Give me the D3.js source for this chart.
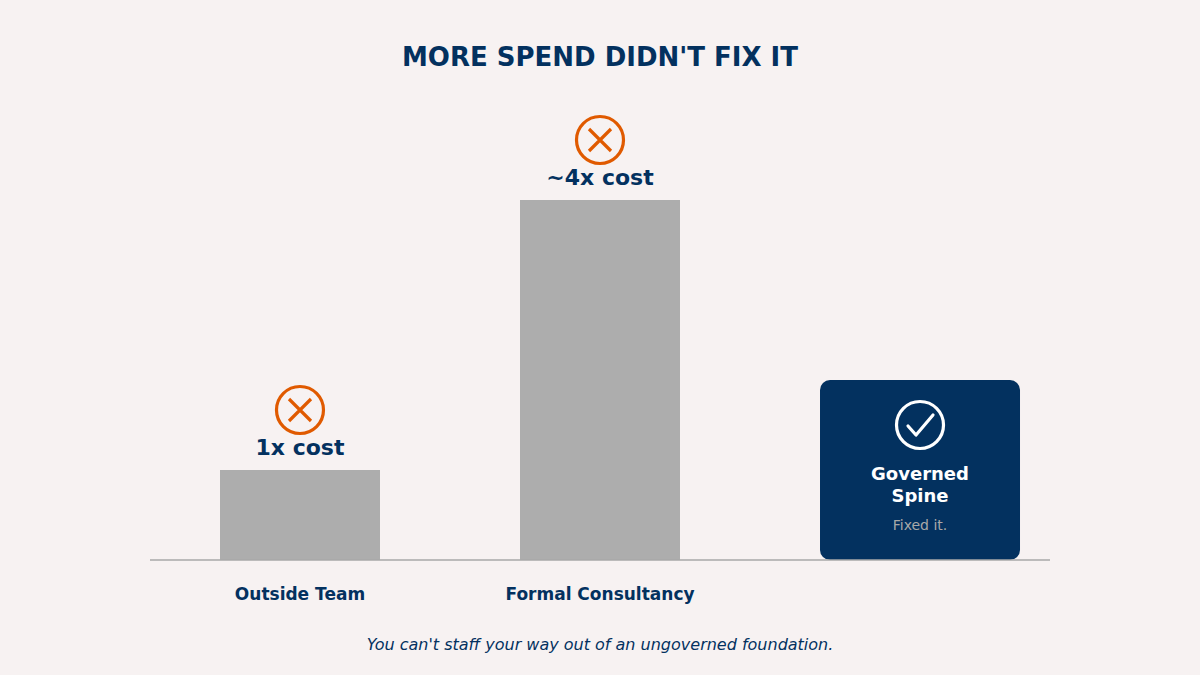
<!DOCTYPE html>
<html>
<head>
	<script src="https://d3js.org/d3.v7.min.js"></script>
	<style>
		body { margin: 0; background: #f7f2f2; font-family: "DejaVu Sans", sans-serif; }
	</style>
</head>
<body>
	<div id="chart"></div>
	<script>
		// data
		const categories = ["Outside Team", "Formal Consultancy", "Governed Spine"];
		const costValues = [1, 4, null];          // relative cost, spine has no bar
		const costLabels = ["1x cost", "~4x cost", null];
		const spineValue = 2;                      // height of the highlight card
		const spineLines = ["Governed", "Spine"];
		const spineNote = "Fixed it.";

		const navy = "#03315f", grey = "#adadad", orange = "#e05a00";
		const W = 1200, H = 675;

		const svg = d3.select("#chart").append("svg")
			.attr("width", W).attr("height", H);

		svg.append("rect").attr("width", W).attr("height", H).attr("fill", "#f7f2f2");

		// x scale
		const x = d3.scaleBand()
			.domain(categories)
			.range([150, 1050])
			.paddingInner(0.4667)
			.paddingOuter(0.2333);

		// y scale
		const y = d3.scaleLinear().domain([0, 4]).range([560, 200]);

		// title
		svg.append("text")
			.attr("x", W / 2).attr("y", 66)
			.attr("text-anchor", "middle")
			.attr("font-size", 26).attr("font-weight", "bold")
			.attr("fill", navy)
			.text("MORE SPEND DIDN'T FIX IT");

		const barData = categories.map((c, i) => ({ cat: c, v: costValues[i], label: costLabels[i] }))
			.filter(d => d.v != null);

		// bars
		svg.selectAll("rect.bar")
			.data(barData)
			.enter().append("rect")
			.attr("class", "bar")
			.attr("x", d => x(d.cat))
			.attr("y", d => y(d.v))
			.attr("width", x.bandwidth())
			.attr("height", d => y(0) - y(d.v))
			.attr("fill", grey);

		// cost labels
		svg.selectAll("text.cost")
			.data(barData)
			.enter().append("text")
			.attr("x", d => x(d.cat) + x.bandwidth() / 2)
			.attr("y", d => y(d.v) - 15)
			.attr("text-anchor", "middle")
			.attr("font-size", 22).attr("font-weight", "bold")
			.attr("fill", navy)
			.text(d => d.label);

		// X icons
		const icons = svg.selectAll("g.xicon")
			.data(barData)
			.enter().append("g")
			.attr("transform", d => `translate(${x(d.cat) + x.bandwidth() / 2},${y(d.v) - 60})`);
		icons.append("circle").attr("r", 23.5)
			.attr("fill", "none").attr("stroke", orange).attr("stroke-width", 3.2);
		icons.append("path").attr("d", "M-11,-11L11,11M11,-11L-11,11")
			.attr("stroke", orange).attr("stroke-width", 3.2).attr("fill", "none");

		// spine card
		const sx = x(categories[2]) + x.bandwidth() / 2 + 20;
		svg.append("rect")
			.attr("x", sx - 100).attr("y", y(spineValue))
			.attr("width", 200).attr("height", y(0) - y(spineValue))
			.attr("rx", 10)
			.attr("fill", navy);

		const check = svg.append("g").attr("transform", `translate(${sx},${y(spineValue) + 45})`);
		check.append("circle").attr("r", 23.5)
			.attr("fill", "none").attr("stroke", "#fff").attr("stroke-width", 3.2);
		check.append("path").attr("d", "M-12,1L-4,10L13,-10")
			.attr("stroke", "#fff").attr("stroke-width", 3.2).attr("fill", "none")
			.attr("stroke-linecap", "round").attr("stroke-linejoin", "round");

		svg.selectAll("text.spine")
			.data(spineLines)
			.enter().append("text")
			.attr("x", sx)
			.attr("y", (d, i) => y(spineValue) + 100 + i * 22)
			.attr("text-anchor", "middle")
			.attr("font-size", 18).attr("font-weight", "bold")
			.attr("fill", "#fff")
			.text(d => d);

		svg.append("text")
			.attr("x", sx).attr("y", y(spineValue) + 150)
			.attr("text-anchor", "middle")
			.attr("font-size", 14)
			.attr("fill", "#a8a8a8")
			.text(spineNote);

		// baseline axis
		svg.append("line")
			.attr("x1", 150).attr("x2", 1050)
			.attr("y1", y(0)).attr("y2", y(0))
			.attr("stroke", "#a8a8a8").attr("stroke-width", 1.5);

		// category labels
		svg.selectAll("text.cat")
			.data(barData)
			.enter().append("text")
			.attr("x", d => x(d.cat) + x.bandwidth() / 2)
			.attr("y", 600)
			.attr("text-anchor", "middle")
			.attr("font-size", 17).attr("font-weight", "bold")
			.attr("fill", navy)
			.text(d => d.cat);

		// footer
		svg.append("text")
			.attr("x", W / 2).attr("y", 650)
			.attr("text-anchor", "middle")
			.attr("font-size", 16).attr("font-style", "italic")
			.attr("fill", navy)
			.text("You can't staff your way out of an ungoverned foundation.");
	</script>
</body>
</html>
